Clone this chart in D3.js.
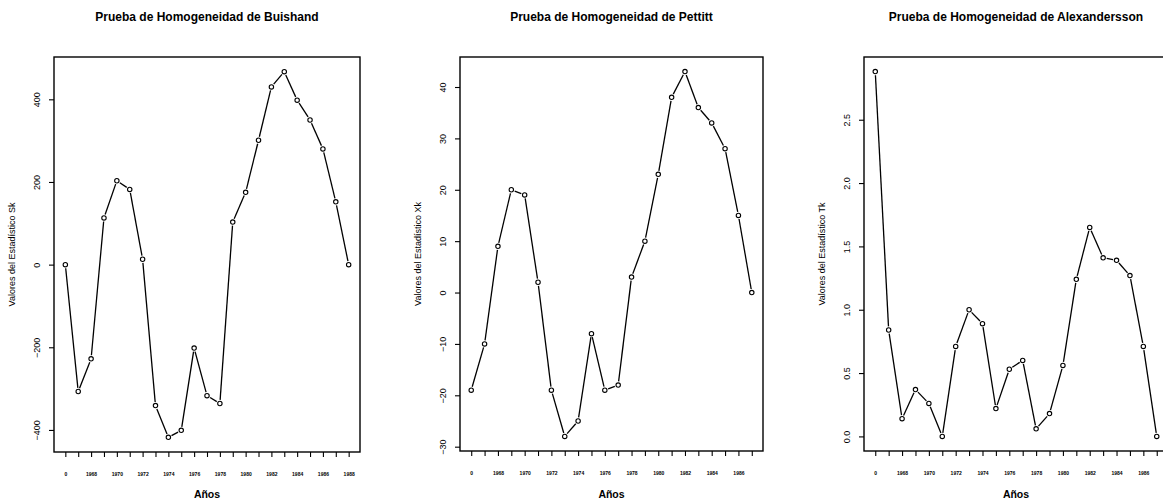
<!DOCTYPE html>
<html>
<head>
<meta charset="utf-8">
<script src="https://cdn.jsdelivr.net/npm/d3@7"></script>
<style>
  body { margin: 0; background: #fff; }
  svg { display: block; font-family: "Liberation Sans", Arial, sans-serif; }
</style>
</head>
<body>
<svg></svg>
<script>
//data
const buishand = [0,-307,-228,113,203,182,13,-341,-418,-401,-202,-317,-336,103,175,301,430,467,398,350,280,152,0];
const pettitt = [-19,-10,9,20,19,2,-19,-28,-25,-8,-19,-18,3,10,23,38,43,36,33,28,15,0];
const alexandersson = [2.88,0.84,0.14,0.37,0.26,0,0.71,1.0,0.89,0.22,0.53,0.6,0.06,0.18,0.56,1.24,1.65,1.41,1.39,1.27,0.71,0];

const yearLabels1 = ["0","1968","1970","1972","1974","1976","1978","1980","1982","1984","1986","1988"];
const yearLabels2 = ["0","1968","1970","1972","1974","1976","1978","1980","1982","1984","1986"];

const ticks1 = [-400,-200,0,200,400];
const ticks2 = [-30,-20,-10,0,10,20,30,40];
const ticks3 = [0,0.5,1,1.5,2,2.5];

const titles = ["Prueba de Homogeneidad de Buishand","Prueba de Homogeneidad de Pettitt","Prueba de Homogeneidad de Alexandersson"];
const yTitles = ["Valores del Estadístico Sk","Valores del Estadístico Xk","Valores del Estadístico Tk"];
const xTitle = "Años";

//setting
const Width = 1163;
const Height = 502;
const svg = d3.select("svg").attr("width", Width).attr("height", Height).style("background", "#fff");

function panel(data, box, yTickVals, yFmt, xLabels, title, yTitle) {
    const n = data.length;
    // R style 4% padding on both axes
    const x = d3.scaleLinear().domain([-0.04 * (n - 1), (n - 1) * 1.04]).range([box.left, box.right]);
    const lo = d3.min(data), hi = d3.max(data), ext = (hi - lo) * 0.04;
    const y = d3.scaleLinear().domain([lo - ext, hi + ext]).range([box.bottom, box.top]);

    const g = svg.append("g");

    //title
    g.append("text")
    .text(title)
    .attr("x", (box.left + box.right) / 2)
    .attr("y", 21)
    .attr("text-anchor", "middle")
    .style("font-size", "12px")
    .style("font-weight", "bold")

    //y axis
    const ya = g.append("g")
    .attr("transform", `translate(${box.left},0)`)
    .call(d3.axisLeft(y).tickValues(yTickVals).tickSize(5).tickSizeOuter(0).tickFormat(yFmt));
    ya.select(".domain").remove();
    ya.selectAll("line").attr("stroke", "#000").attr("stroke-width", 1.1);
    ya.selectAll("text")
    .attr("transform", "rotate(-90)")
    .attr("x", 0)
    .attr("y", -17)
    .attr("dy", "0.35em")
    .attr("text-anchor", "middle")
    .attr("fill", "#000")
    .style("font-size", "9px")
    .style("font-family", "Liberation Sans, Arial, sans-serif")

    //x axis
    const xa = g.append("g")
    .attr("transform", `translate(0,${box.bottom})`)
    .call(d3.axisBottom(x).tickValues(d3.range(n)).tickSize(5).tickSizeOuter(0)
        .tickFormat((d, i) => i % 2 === 0 ? (xLabels[i / 2] || "") : ""));
    xa.select(".domain").remove();
    xa.selectAll("line").attr("stroke", "#000").attr("stroke-width", 1.1);
    xa.selectAll("text")
    .attr("y", 24)
    .attr("dy", 0)
    .attr("fill", "#000")
    .style("font-size", "5px")
    .style("font-weight", "bold")
    .style("font-family", "Liberation Sans, Arial, sans-serif")

    //axis titles
    g.append("text")
    .text(xTitle)
    .attr("x", (box.left + box.right) / 2)
    .attr("y", 498)
    .attr("text-anchor", "middle")
    .style("font-size", "10.5px")
    .style("font-weight", "bold")

    g.append("text")
    .text(yTitle)
    .attr("transform", `translate(${box.left - 42},${(box.top + box.bottom) / 2}) rotate(-90)`)
    .attr("dy", "0.35em")
    .attr("text-anchor", "middle")
    .style("font-size", "9px")

    //box
    g.append("rect")
    .attr("x", box.left)
    .attr("y", box.top)
    .attr("width", box.right - box.left)
    .attr("height", box.bottom - box.top)
    .attr("fill", "none")
    .attr("stroke", "#000")
    .attr("stroke-width", 1.4)

    //lines with gaps around points (type = "b")
    const gap = 3.6;
    const segs = d3.pairs(data.map((d, i) => [x(i), y(d)]));
    g.append("g")
    .selectAll("line")
    .data(segs.filter(([a, b]) => Math.hypot(b[0] - a[0], b[1] - a[1]) > gap * 2))
    .join("line")
    .each(function([a, b]) {
        const len = Math.hypot(b[0] - a[0], b[1] - a[1]);
        const ux = (b[0] - a[0]) / len, uy = (b[1] - a[1]) / len;
        d3.select(this)
        .attr("x1", a[0] + ux * gap).attr("y1", a[1] + uy * gap)
        .attr("x2", b[0] - ux * gap).attr("y2", b[1] - uy * gap)
    })
    .attr("stroke", "#000")
    .attr("stroke-width", 1.3)

    g.append("g")
    .selectAll("circle")
    .data(data)
    .join("circle")
    .attr("cx", (d, i) => x(i))
    .attr("cy", (d) => y(d))
    .attr("r", 2.2)
    .attr("fill", "#fff")
    .attr("stroke", "#000")
    .attr("stroke-width", 1.1)
}

panel(buishand, {left: 54, right: 360, top: 57, bottom: 452}, ticks1, d3.format("d"), yearLabels1, titles[0], yTitles[0]);
panel(pettitt, {left: 460, right: 763, top: 57, bottom: 451}, ticks2, d3.format("d"), yearLabels2, titles[1], yTitles[1]);
panel(alexandersson, {left: 864, right: 1168, top: 57, bottom: 451}, ticks3, d3.format(".1f"), yearLabels2, titles[2], yTitles[2]);
</script>
</body>
</html>
